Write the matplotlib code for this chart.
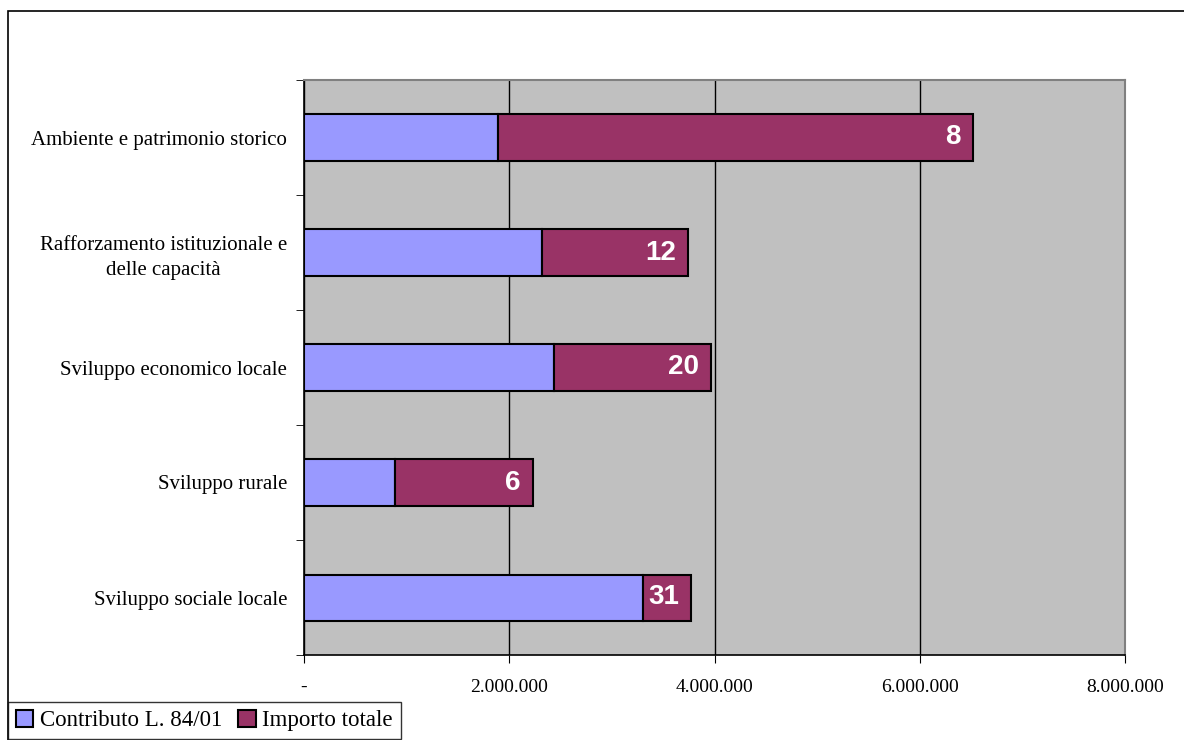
import numpy as np
import matplotlib.pyplot as plt
from matplotlib.patches import Rectangle

categories = ["Ambiente e patrimonio storico",
              "Rafforzamento istituzionale e\ndelle capacità",
              "Sviluppo economico locale",
              "Sviluppo rurale",
              "Sviluppo sociale locale"]
contributo = [1890000, 2315000, 2440000, 890000, 3305000]
importo_totale = [6520000, 3745000, 3970000, 2230000, 3775000]
num_progetti = [8, 12, 20, 6, 31]
xticks = [0, 2000000, 4000000, 6000000, 8000000]
xtick_labels = ["-", "2.000.000", "4.000.000", "6.000.000", "8.000.000"]

W, H = 1184, 740
fig = plt.figure(figsize=(W / 100, H / 100), dpi=100)
ax = fig.add_axes([304 / W, 1 - 655 / H, (1125 - 304) / W, (655 - 80) / H])

# outer chart frame
fig.patches.append(Rectangle((8 / W, -0.2), 1.2, 1.2 - 11 / H, transform=fig.transFigure,
                             fill=False, edgecolor="black", linewidth=1.2, zorder=0))

y = np.arange(len(categories))[::-1]
rest = [t - c for t, c in zip(importo_totale, contributo)]
ax.set_facecolor("#C0C0C0")
b1 = ax.barh(y, contributo, height=0.4, color="#9999FF", edgecolor="black", linewidth=1.5,
             label="Contributo L. 84/01", zorder=3)
b2 = ax.barh(y, rest, left=contributo, height=0.4, color="#993366", edgecolor="black",
             linewidth=1.5, label="Importo totale", zorder=3)

for yi, tot, n in zip(y, importo_totale, num_progetti):
    ax.annotate(str(n), (tot, yi), xytext=(-9, 0), textcoords="offset points",
                ha="right", va="center", color="white", fontsize=20, fontweight="bold",
                family="Liberation Sans", zorder=4)

ax.set_xlim(0, 8000000)
ax.set_ylim(-0.5, len(categories) - 0.5)
ax.set_xticks(xticks)
ax.set_xticklabels(xtick_labels, family="Liberation Serif", fontsize=14)
ax.xaxis.grid(True, color="black", linewidth=1)
ax.set_axisbelow(True)
ax.tick_params(axis="x", length=6, direction="out", pad=11)

ax.set_yticks(y)
ax.set_yticklabels(categories, family="Liberation Serif", fontsize=15, multialignment="center",
                   linespacing=1.45)
ax.set_yticks(np.arange(-0.5, len(categories)), minor=True)
ax.tick_params(axis="y", which="major", length=0, pad=12)
ax.tick_params(axis="y", which="minor", length=6, direction="out")

for s in ["top", "right"]:
    ax.spines[s].set_color("#808080")
    ax.spines[s].set_linewidth(1.5)
for s in ["left", "bottom"]:
    ax.spines[s].set_color("black")
    ax.spines[s].set_linewidth(1.2)

leg = fig.legend(handles=[b1, b2], loc="upper left", bbox_to_anchor=(8 / W, 1 - 702 / H),
                 ncol=2, frameon=True, fancybox=False, edgecolor="black",
                 prop={"family": "Liberation Serif", "size": 16.5},
                 handlelength=0.75, handleheight=0.75, handletextpad=0.3, columnspacing=0.7,
                 borderpad=0.35, borderaxespad=0)
leg.get_frame().set_linewidth(1)

fig.savefig("out.png", dpi=100)
